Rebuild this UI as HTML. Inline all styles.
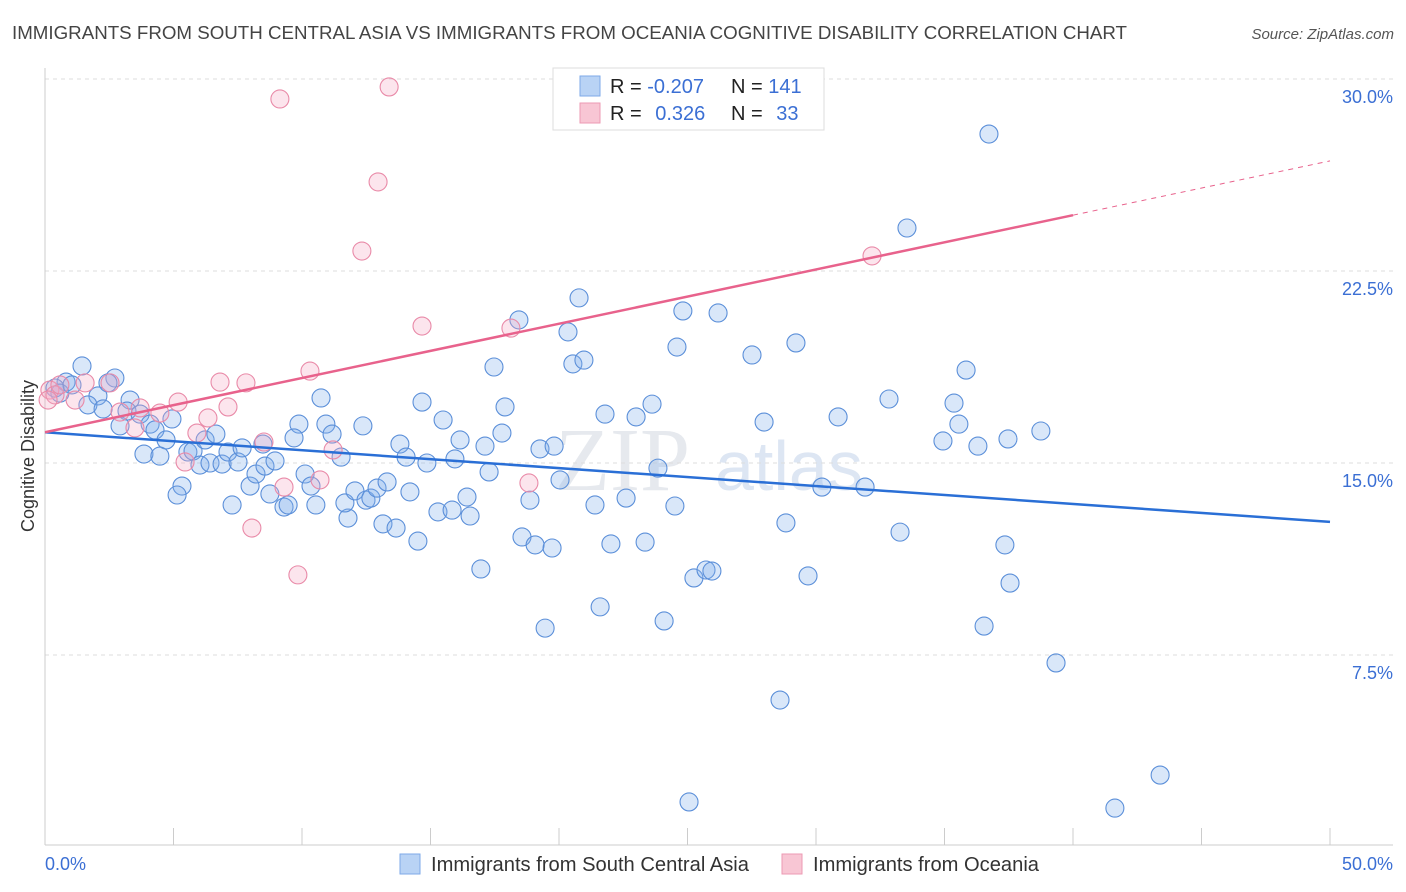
<!DOCTYPE html>
<html><head><meta charset="utf-8"><style>
body{margin:0;background:#fff;font-family:"Liberation Sans",sans-serif;}
svg{display:block}
</style></head><body>
<svg id="chart" width="1406" height="892">
<text x="12" y="39" font-size="18" fill="#444" textLength="1115" lengthAdjust="spacingAndGlyphs">IMMIGRANTS FROM SOUTH CENTRAL ASIA VS IMMIGRANTS FROM OCEANIA COGNITIVE DISABILITY CORRELATION CHART</text>
<text x="1394" y="39" font-size="15" fill="#555" font-style="italic" text-anchor="end">Source: ZipAtlas.com</text>
<text transform="translate(34,456) rotate(-90)" font-size="18" fill="#333" text-anchor="middle">Cognitive Disability</text>
<text x="555" y="490" font-size="90" fill="#e6e9ee" font-family="Liberation Serif">ZIP</text>
<text x="715" y="490" font-size="70" fill="#dde6f3">atlas</text>
<g id="grid"></g><g id="axes"></g><g id="pts"></g><g id="lines"></g>
<g>
<rect x="553" y="68" width="271" height="62" fill="#fff" stroke="#ddd"/>
<rect x="580" y="76" width="20" height="20" fill="#b9d3f5" stroke="#7ea9e8"/>
<rect x="580" y="103" width="20" height="20" fill="#f8c6d4" stroke="#ec9ab3"/>
<text x="610" y="93" font-size="20" fill="#222">R = <tspan fill="#3b6fd4">-0.207</tspan></text>
<text x="731" y="93" font-size="20" fill="#222">N = <tspan fill="#3b6fd4">141</tspan></text>
<text x="610" y="120" font-size="20" fill="#222">R = <tspan fill="#3b6fd4" dx="8">0.326</tspan></text>
<text x="731" y="120" font-size="20" fill="#222">N = <tspan fill="#3b6fd4" dx="8">33</tspan></text>
</g>
<g>
<rect x="400" y="854" width="20" height="20" fill="#b9d3f5" stroke="#7ea9e8"/>
<text x="431" y="871" font-size="20" fill="#333" textLength="318" lengthAdjust="spacingAndGlyphs">Immigrants from South Central Asia</text>
<rect x="782" y="854" width="20" height="20" fill="#f8c6d4" stroke="#ec9ab3"/>
<text x="813" y="871" font-size="20" fill="#333" textLength="226" lengthAdjust="spacingAndGlyphs">Immigrants from Oceania</text>
</g>
</svg>
<script>
const blueX=[1.44,0.82,0.39,0.58,1.05,2.06,2.72,2.45,1.67,2.26,3.31,3.19,3.70,2.92,4.09,4.28,4.71,4.94,3.85,4.47,5.56,5.76,6.23,6.03,6.65,6.42,6.89,7.12,7.51,7.67,5.33,5.14,7.28,7.98,8.21,8.48,8.56,8.95,8.75,9.30,9.46,9.88,9.69,10.12,10.35,10.54,10.74,10.93,11.17,11.52,11.79,11.67,12.06,12.37,12.49,12.68,12.92,13.15,13.31,13.66,13.81,14.05,14.20,14.51,14.67,14.86,15.29,15.49,15.84,15.95,16.15,16.42,16.54,16.96,17.12,17.28,17.47,17.78,17.90,18.44,18.56,18.87,19.07,19.26,19.46,19.73,19.81,20.04,20.35,20.54,20.78,20.97,21.40,21.60,21.79,22.02,22.61,23.00,23.35,23.62,23.85,24.09,24.51,24.59,24.82,25.06,25.25,25.72,25.95,26.19,27.51,27.98,28.60,28.83,29.22,29.46,29.69,30.23,30.86,31.91,32.84,33.27,33.54,34.94,35.37,35.56,35.84,36.30,36.54,36.73,37.35,37.47,37.55,38.75,39.34,41.63,43.39];
const blueY=[18.79,18.16,17.93,17.73,18.05,17.62,18.32,18.13,17.27,17.11,17.46,17.03,16.91,16.45,16.52,16.29,15.90,16.72,15.35,15.27,15.43,15.47,15.90,14.92,16.13,15.00,14.96,15.43,15.04,15.59,14.10,13.75,13.36,14.10,14.57,15.74,14.88,15.08,13.79,13.28,13.36,16.52,15.98,14.57,14.10,13.36,17.54,16.52,16.13,15.23,12.85,13.44,13.91,16.45,13.55,13.63,14.02,12.62,14.26,12.46,15.74,15.23,13.87,11.95,17.38,15.00,13.09,16.68,13.16,15.16,15.90,13.67,12.93,10.86,15.66,14.65,18.75,16.17,17.19,20.59,12.11,13.55,11.80,15.55,8.55,11.68,15.66,14.34,20.12,18.87,21.45,19.02,13.36,9.38,16.91,11.84,13.63,16.80,11.91,17.30,14.80,8.83,13.32,19.53,20.94,1.76,10.51,10.82,10.78,20.86,19.22,16.60,5.74,12.66,19.69,29.41,10.59,14.06,16.80,14.06,17.50,12.30,24.18,15.86,17.34,16.52,18.63,15.66,8.63,27.85,11.80,15.94,10.31,16.25,7.19,1.52,2.81];
const pinkX=[0.19,0.39,0.58,1.17,1.56,2.53,2.92,3.50,4.47,5.18,5.45,5.91,6.34,6.81,7.12,7.82,8.05,8.52,9.14,9.30,9.84,10.31,10.70,11.21,12.33,12.96,13.39,14.67,18.13,18.83,32.18,0.12,3.70];
const pinkY=[17.85,17.66,18.05,17.46,18.13,18.13,16.99,16.37,16.95,17.38,15.04,16.17,16.76,18.16,17.19,18.13,12.46,15.82,29.22,14.06,10.63,18.59,14.34,15.51,23.28,25.98,29.69,20.35,20.27,14.22,23.09,17.46,17.15];
const yTicks=[7.5,15.0,22.5,30.0];
const xTickVals=[0,5,10,15,20,25,30,35,40,45,50];
const blueTrend=[16.2,12.7];
const pinkTrend=[16.2,26.8];
const pinkSolidEnd=40;

const NS="http://www.w3.org/2000/svg";
const X0=45,X1=1330,Y0=847,PY=25.6;
const sx=v=>X0+(X1-X0)*v/50;
const sy=v=>Y0-v*PY;
function mk(tag,attrs,parent){const e=document.createElementNS(NS,tag);for(const k in attrs)e.setAttribute(k,attrs[k]);parent.appendChild(e);return e;}
const grid=document.getElementById('grid'),axes=document.getElementById('axes'),pts=document.getElementById('pts'),lines=document.getElementById('lines');
yTicks.forEach(t=>{
  const l=mk('line',{x1:45,x2:1393,y1:sy(t),y2:sy(t),stroke:'#ddd','stroke-dasharray':'4,4'},grid);
  
  
  const tx=mk('text',{x:1393,y:sy(t)+24,'font-size':18,fill:'#3b6fd4','text-anchor':'end'},grid);
  tx.textContent=t.toFixed(1)+'%';
  
  
});
mk('line',{x1:45,x2:45,y1:68,y2:845,stroke:'#ccc'},axes);
mk('line',{x1:45,x2:1393,y1:845,y2:845,stroke:'#ccc'},axes);
xTickVals.forEach(t=>{
  const l=mk('line',{x1:sx(t),x2:sx(t),y1:828,y2:845,stroke:'#ccc'},axes);
  
  
});
const xl0=mk('text',{x:45,y:870,'font-size':18,fill:'#3b6fd4'},axes);xl0.textContent='0.0%';


const xl1=mk('text',{x:1393,y:870,'font-size':18,fill:'#3b6fd4','text-anchor':'end'},axes);xl1.textContent='50.0%';


blueX.forEach((v,i)=>{
  const c=mk('circle',{cx:sx(v),cy:sy(blueY[i]),r:9,fill:'rgba(130,175,235,0.3)',stroke:'#5b8fd9','stroke-width':1.1},pts);
  
  
});
pinkX.forEach((v,i)=>{
  const c=mk('circle',{cx:sx(v),cy:sy(pinkY[i]),r:9,fill:'rgba(245,170,195,0.3)',stroke:'#e98aa8','stroke-width':1.1},pts);
  
  
});
const bl=mk('line',{x1:sx(0),y1:sy(blueTrend[0]),x2:sx(50),y2:sy(blueTrend[1]),stroke:'#2a6fd6','stroke-width':2.5},lines);


const pm=pinkTrend[0]+(pinkTrend[1]-pinkTrend[0])*pinkSolidEnd/50;
const pl=mk('line',{x1:sx(0),y1:sy(pinkTrend[0]),x2:sx(pinkSolidEnd),y2:sy(pm),stroke:'#e8628c','stroke-width':2.5},lines);


const pd=mk('line',{x1:sx(pinkSolidEnd),y1:sy(pm),x2:sx(50),y2:sy(pinkTrend[1]),stroke:'#e8628c','stroke-width':1,'stroke-dasharray':'5,5'},lines);


</script>
</body></html>
